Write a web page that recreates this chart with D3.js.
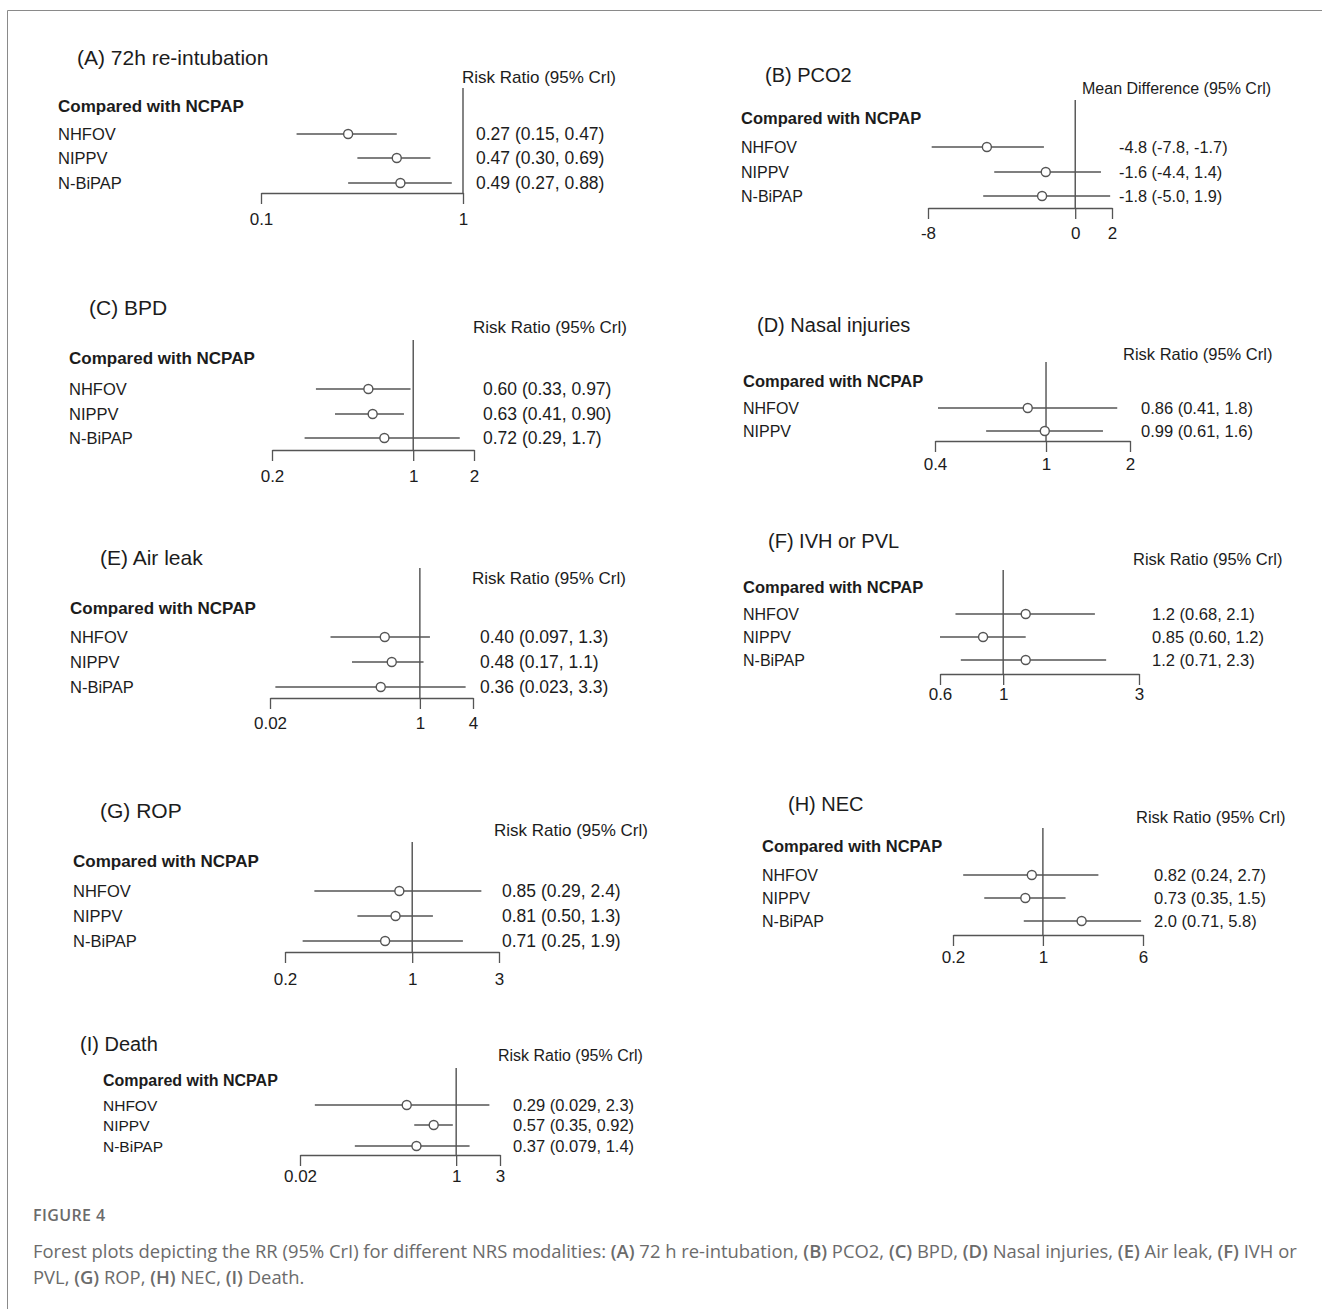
<!DOCTYPE html>
<html>
<head>
<meta charset="utf-8">
<script src="https://cdn.jsdelivr.net/npm/d3@7"></script>
<style>
  body { margin: 0; background: #fff; }
  svg text { font-family: "Liberation Sans", Arial, sans-serif; fill: #1c1c1c; }
  .caption text { font-family: "Open Sans", sans-serif; fill: #6b6b6b; }
</style>
</head>
<body>
<div id="chart"></div>
<script>
// ---- chart values ----
const panelTitles = ["(A) 72h re-intubation", "(B) PCO2", "(C) BPD", "(D) Nasal injuries",
  "(E) Air leak", "(F) IVH or PVL", "(G) ROP", "(H) NEC", "(I) Death"];
const effectHeaders = ["Risk Ratio (95% Crl)", "Mean Difference (95% Crl)", "Risk Ratio (95% Crl)",
  "Risk Ratio (95% Crl)", "Risk Ratio (95% Crl)", "Risk Ratio (95% Crl)", "Risk Ratio (95% Crl)",
  "Risk Ratio (95% Crl)", "Risk Ratio (95% Crl)"];
const groupHeader = "Compared with NCPAP";
const treatments = [
  ["NHFOV", "NIPPV", "N-BiPAP"], ["NHFOV", "NIPPV", "N-BiPAP"], ["NHFOV", "NIPPV", "N-BiPAP"],
  ["NHFOV", "NIPPV"], ["NHFOV", "NIPPV", "N-BiPAP"], ["NHFOV", "NIPPV", "N-BiPAP"],
  ["NHFOV", "NIPPV", "N-BiPAP"], ["NHFOV", "NIPPV", "N-BiPAP"], ["NHFOV", "NIPPV", "N-BiPAP"]
];
const pointEstimates = [[0.27, 0.47, 0.49], [-4.8, -1.6, -1.8], [0.60, 0.63, 0.72], [0.86, 0.99],
  [0.40, 0.48, 0.36], [1.2, 0.85, 1.2], [0.85, 0.81, 0.71], [0.82, 0.73, 2.0], [0.29, 0.57, 0.37]];
const lowerBounds = [[0.15, 0.30, 0.27], [-7.8, -4.4, -5.0], [0.33, 0.41, 0.29], [0.41, 0.61],
  [0.097, 0.17, 0.023], [0.68, 0.60, 0.71], [0.29, 0.50, 0.25], [0.24, 0.35, 0.71], [0.029, 0.35, 0.079]];
const upperBounds = [[0.47, 0.69, 0.88], [-1.7, 1.4, 1.9], [0.97, 0.90, 1.7], [1.8, 1.6],
  [1.3, 1.1, 3.3], [2.1, 1.2, 2.3], [2.4, 1.3, 1.9], [2.7, 1.5, 5.8], [2.3, 0.92, 1.4]];
const estimateLabels = [
  ["0.27 (0.15, 0.47)", "0.47 (0.30, 0.69)", "0.49 (0.27, 0.88)"],
  ["-4.8 (-7.8, -1.7)", "-1.6 (-4.4, 1.4)", "-1.8 (-5.0, 1.9)"],
  ["0.60 (0.33, 0.97)", "0.63 (0.41, 0.90)", "0.72 (0.29, 1.7)"],
  ["0.86 (0.41, 1.8)", "0.99 (0.61, 1.6)"],
  ["0.40 (0.097, 1.3)", "0.48 (0.17, 1.1)", "0.36 (0.023, 3.3)"],
  ["1.2 (0.68, 2.1)", "0.85 (0.60, 1.2)", "1.2 (0.71, 2.3)"],
  ["0.85 (0.29, 2.4)", "0.81 (0.50, 1.3)", "0.71 (0.25, 1.9)"],
  ["0.82 (0.24, 2.7)", "0.73 (0.35, 1.5)", "2.0 (0.71, 5.8)"],
  ["0.29 (0.029, 2.3)", "0.57 (0.35, 0.92)", "0.37 (0.079, 1.4)"]
];
const axisTicks = [[0.1, 1], [-8, 0, 2], [0.2, 1, 2], [0.4, 1, 2], [0.02, 1, 4],
  [0.6, 1, 3], [0.2, 1, 3], [0.2, 1, 6], [0.02, 1, 3]];
const nullValues = [1, 0, 1, 1, 1, 1, 1, 1, 1];
const scaleTypes = ["log", "linear", "log", "log", "log", "log", "log", "log", "log"];

const captionLabel = "FIGURE 4";
const captionParts = [
  ["Forest plots depicting the RR (95% CrI) for different NRS modalities: ", false], ["(A)", true],
  [" 72 h re-intubation, ", false], ["(B)", true], [" PCO2, ", false], ["(C)", true], [" BPD, ", false],
  ["(D)", true], [" Nasal injuries, ", false], ["(E)", true], [" Air leak, ", false], ["(F)", true],
  [" IVH or", false]
];
const captionParts2 = [["PVL, ", false], ["(G)", true], [" ROP, ", false], ["(H)", true],
  [" NEC, ", false], ["(I)", true], [" Death.", false]];

// ---- layout (pixel positions and font sizes for each panel) ----
// tfs: title size, fs: header/row size, vfs: value size, tickY: tick label centre below axis
const layout = [
  { titleX: 77, titleY: 57, headX: 462, headY: 77, labelX: 58, compY: 106, rows: [134, 158, 183], ax: [261, 463], axisY: 193, refTop: 88, valX: 476, tickY: 26, tfs: 21, fs: 17, hfs: 17, vfs: 17.5 },
  { titleX: 765, titleY: 75, headX: 1082, headY: 88, labelX: 741, compY: 118, rows: [147, 172, 196], ax: [928, 1112], axisY: 208, refTop: 100, valX: 1119, tickY: 25, tfs: 20, fs: 16.5, hfs: 16, vfs: 16.3 },
  { titleX: 89, titleY: 307, headX: 473, headY: 327, labelX: 69, compY: 358, rows: [389, 414, 438], ax: [272, 474], axisY: 450, refTop: 340, valX: 483, tickY: 26, tfs: 21, fs: 17, hfs: 17, vfs: 17.5 },
  { titleX: 757, titleY: 325, headX: 1123, headY: 354, labelX: 743, compY: 381, rows: [408, 431], ax: [935, 1130], axisY: 441, refTop: 362, valX: 1141, tickY: 23, tfs: 20, fs: 16.5, hfs: 16.5, vfs: 16.5 },
  { titleX: 100, titleY: 557, headX: 472, headY: 578, labelX: 70, compY: 608, rows: [637, 662, 687], ax: [270, 473], axisY: 698, refTop: 568, valX: 480, tickY: 25, tfs: 21, fs: 17, hfs: 17, vfs: 17.5 },
  { titleX: 768, titleY: 541, headX: 1133, headY: 559, labelX: 743, compY: 587, rows: [614, 637, 660], ax: [940, 1139], axisY: 674, refTop: 570, valX: 1152, tickY: 20, tfs: 20, fs: 16.5, hfs: 16.5, vfs: 16.5 },
  { titleX: 100, titleY: 810, headX: 494, headY: 830, labelX: 73, compY: 861, rows: [891, 916, 941], ax: [285, 499], axisY: 952, refTop: 842, valX: 502, tickY: 27, tfs: 21, fs: 17, hfs: 17, vfs: 17.5 },
  { titleX: 788, titleY: 804, headX: 1136, headY: 817, labelX: 762, compY: 846, rows: [875, 898, 921], ax: [953, 1143], axisY: 935, refTop: 828, valX: 1154, tickY: 22, tfs: 20, fs: 16.5, hfs: 16.5, vfs: 16.5 },
  { titleX: 80, titleY: 1044, headX: 498, headY: 1055, labelX: 103, compY: 1080, rows: [1105, 1125, 1146], ax: [300, 500], axisY: 1155, refTop: 1068, valX: 513, tickY: 21, tfs: 20, fs: 16, hfs: 16, vfs: 16.5 }
];

const W = 1322, H = 1309;
const lineColor = "#555";

const svg = d3.select("#chart").append("svg")
  .attr("width", W).attr("height", H)
  .attr("viewBox", `0 0 ${W} ${H}`);

// frame (left + top edges visible)
svg.append("path")
  .attr("d", `M7.5,${H} V10.5 H${W}`)
  .attr("fill", "none").attr("stroke", "#8a8a8a").attr("stroke-width", 1);

panelTitles.forEach((title, i) => {
  const L = layout[i];
  const g = svg.append("g").attr("class", "panel");

  const x = (scaleTypes[i] === "log" ? d3.scaleLog() : d3.scaleLinear())
    .domain(d3.extent(axisTicks[i]))
    .range(L.ax);

  // titles and headers
  g.append("text").attr("x", L.titleX).attr("y", L.titleY)
    .attr("dominant-baseline", "central")
    .style("font-size", L.tfs + "px").text(title);

  g.append("text").attr("x", L.headX).attr("y", L.headY)
    .attr("dominant-baseline", "central")
    .style("font-size", L.hfs + "px").text(effectHeaders[i]);

  g.append("text").attr("x", L.labelX).attr("y", L.compY)
    .attr("dominant-baseline", "central")
    .style("font-size", L.fs + "px").style("font-weight", "bold").text(groupHeader);

  // reference line
  g.append("line")
    .attr("x1", x(nullValues[i])).attr("x2", x(nullValues[i]))
    .attr("y1", L.refTop).attr("y2", L.axisY)
    .attr("stroke", "#333").attr("stroke-width", 1.2);

  // axis
  const axis = d3.axisBottom(x)
    .tickValues(axisTicks[i])
    .tickFormat(d => String(d))
    .tickSize(11)
    .tickSizeOuter(0);
  const ag = g.append("g").attr("transform", `translate(0,${L.axisY})`).call(axis);
  ag.select(".domain").attr("stroke", lineColor).attr("stroke-width", 1.3);
  ag.selectAll(".tick line").attr("stroke", lineColor).attr("stroke-width", 1.3);
  ag.selectAll(".tick text")
    .attr("y", L.tickY).attr("dy", null)
    .attr("dominant-baseline", "central")
    .style("font-size", "17px")
    .style("font-family", "'Liberation Sans', Arial, sans-serif")
    .attr("fill", "#1c1c1c");

  const rows = treatments[i].map((t, j) => ({
    name: t, est: pointEstimates[i][j], lo: lowerBounds[i][j], hi: upperBounds[i][j],
    label: estimateLabels[i][j], y: L.rows[j]
  }));

  g.selectAll("text.row").data(rows).join("text")
    .attr("class", "row")
    .attr("x", L.labelX).attr("y", d => d.y)
    .attr("dominant-baseline", "central")
    .style("font-size", (L.fs - 0.5) + "px").text(d => d.name);

  g.selectAll("line.ci").data(rows).join("line")
    .attr("class", "ci")
    .attr("x1", d => x(d.lo)).attr("x2", d => x(d.hi))
    .attr("y1", d => d.y).attr("y2", d => d.y)
    .attr("stroke", lineColor).attr("stroke-width", 1.5);

  g.selectAll("circle.est").data(rows).join("circle")
    .attr("class", "est")
    .attr("cx", d => x(d.est)).attr("cy", d => d.y)
    .attr("r", 4.5)
    .attr("fill", "#fff").attr("stroke", lineColor).attr("stroke-width", 1.4);

  g.selectAll("text.val").data(rows).join("text")
    .attr("class", "val")
    .attr("x", L.valX).attr("y", d => d.y)
    .attr("dominant-baseline", "central")
    .style("font-size", L.vfs + "px").text(d => d.label);
});

// caption
const cap = svg.append("g").attr("class", "caption");
cap.append("text").attr("x", 33).attr("y", 1221)
  .style("font-size", "16px").style("font-weight", 600).style("letter-spacing", "0.4px")
  .text(captionLabel);

function captionLine(parts, y) {
  const t = cap.append("text").attr("x", 33).attr("y", y).style("font-size", "18.4px");
  parts.forEach(([s, bold]) => {
    t.append("tspan").style("font-weight", bold ? 600 : 400).text(s);
  });
}
captionLine(captionParts, 1258);
captionLine(captionParts2, 1284);
</script>
</body>
</html>
